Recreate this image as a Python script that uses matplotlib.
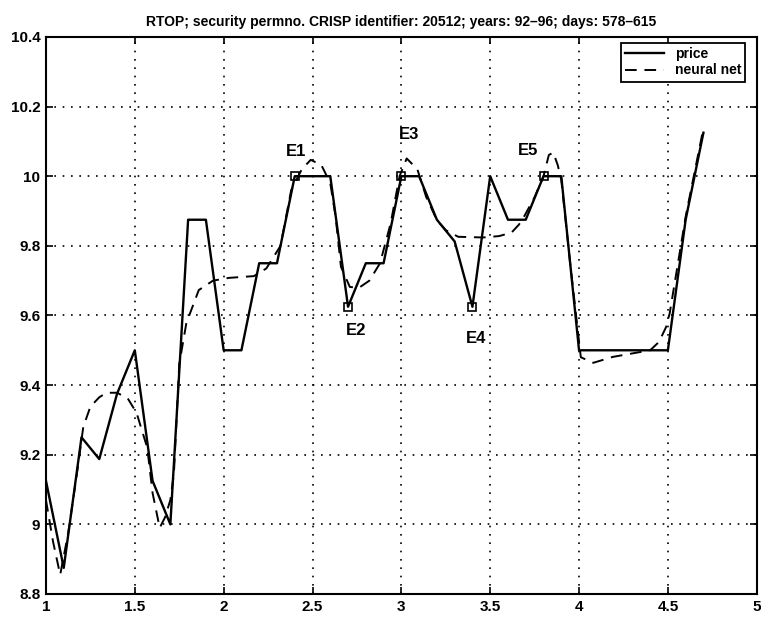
import numpy as np
import matplotlib.pyplot as plt

# daily closing price, one point per 0.1 on the x axis (days 578-615)
days = [1.0, 1.1, 1.2, 1.3, 1.4, 1.5, 1.6, 1.7, 1.8, 1.9,
        2.0, 2.1, 2.2, 2.3, 2.4, 2.5, 2.6, 2.7, 2.8, 2.9,
        3.0, 3.1, 3.2, 3.3, 3.4, 3.5, 3.6, 3.7, 3.8, 3.9,
        4.0, 4.1, 4.2, 4.3, 4.4, 4.5, 4.6, 4.7]
price = [9.125, 8.875, 9.25, 9.1875, 9.375, 9.5, 9.125, 9.0, 9.875, 9.875,
         9.5, 9.5, 9.75, 9.75, 10.0, 10.0, 10.0, 9.625, 9.75, 9.75,
         10.0, 10.0, 9.875, 9.8125, 9.625, 10.0, 9.875, 9.875, 10.0, 10.0,
         9.5, 9.5, 9.5, 9.5, 9.5, 9.5, 9.875, 10.125]

# neural net output
nn_x = [1.0, 1.04, 1.08, 1.125, 1.17, 1.21, 1.25, 1.3, 1.34, 1.4,
        1.46, 1.51, 1.57, 1.6, 1.64, 1.67, 1.7, 1.72, 1.75, 1.79,
        1.86, 1.94, 2.03, 2.17, 2.24, 2.32, 2.38, 2.44, 2.49, 2.55,
        2.6, 2.63, 2.66, 2.71, 2.76, 2.82, 2.88, 2.94, 2.99, 3.03,
        3.09, 3.14, 3.2, 3.25, 3.32, 3.46, 3.55, 3.62, 3.66, 3.68,
        3.75, 3.8, 3.83, 3.855, 3.88, 3.9, 3.95, 4.01, 4.08, 4.19,
        4.3, 4.4, 4.45, 4.49, 4.51, 4.6, 4.7]
nn_y = [9.07, 8.95, 8.855, 8.975, 9.13, 9.28, 9.338, 9.365, 9.378, 9.378,
        9.362, 9.32, 9.22, 9.09, 8.99, 9.02, 9.07, 9.146, 9.46, 9.578,
        9.673, 9.70, 9.708, 9.713, 9.735, 9.80, 9.96, 10.02, 10.047, 10.032,
        9.98, 9.884, 9.74, 9.682, 9.679, 9.70, 9.75, 9.865, 10.0, 10.051,
        10.02, 9.94, 9.874, 9.845, 9.826, 9.824, 9.828, 9.838, 9.86, 9.874,
        9.94, 10.0, 10.061, 10.068, 10.032, 9.99, 9.75, 9.48, 9.464, 9.481,
        9.491, 9.50, 9.524, 9.567, 9.606, 9.884, 10.138]

# turning points
event_names = ["E1", "E2", "E3", "E4", "E5"]
event_x = [2.4, 2.7, 3.0, 3.4, 3.8]
event_y = [10.0, 9.625, 10.0, 9.625, 10.0]
label_x = [2.41, 2.744, 3.042, 3.423, 3.713]
label_y = [10.07, 9.558, 10.12, 9.534, 10.075]

plt.rcParams["font.family"] = "Liberation Sans"

fig = plt.figure(figsize=(7.61, 6.21), dpi=100)
ax = fig.add_axes([0.0604, 0.0435, 0.934, 0.897])

ax.plot(days, price, "k-", lw=1.7, label="price")
ax.plot(nn_x, nn_y, "k--", lw=1.4, dashes=(6, 4), label="neural net")
ax.plot(event_x, event_y, "ks", mfc="none", ms=6, mew=1.2)
for name, tx, ty in zip(event_names, label_x, label_y):
    ax.text(tx, ty, name, ha="center", va="center", fontsize=12, fontweight="bold")

ax.set_xlim(1, 5)
ax.set_ylim(8.8, 10.4)
ax.set_xticks(np.arange(1, 5.01, 0.5))
ax.set_yticks(np.arange(8.8, 10.41, 0.2))
ax.set_xticklabels(["1", "1.5", "2", "2.5", "3", "3.5", "4", "4.5", "5"])
ax.set_yticklabels(["8.8", "9", "9.2", "9.4", "9.6", "9.8", "10", "10.2", "10.4"])
ax.tick_params(direction="in", top=True, right=True, length=5, width=1.2,
               labelsize=11, pad=4)
for lbl in ax.get_xticklabels() + ax.get_yticklabels():
    lbl.set_fontweight("bold")
ax.grid(True, color="black", linestyle=(0, (1, 4)), linewidth=1.2)
for sp in ax.spines.values():
    sp.set_linewidth(1.5)

ax.set_title("RTOP; security permno. CRISP identifier: 20512; years: 92\u201396; days: 578\u2013615",
             fontsize=10, fontweight="bold", pad=8)

leg = ax.legend(loc="upper right", bbox_to_anchor=(0.984, 0.99), fontsize=10,
                prop={"weight": "bold", "size": 10}, fancybox=False, framealpha=1,
                edgecolor="black", handlelength=2.8, borderpad=0.3,
                labelspacing=0.2, borderaxespad=0.0)
leg.get_frame().set_linewidth(1.3)

fig.savefig("out.png", dpi=100)
